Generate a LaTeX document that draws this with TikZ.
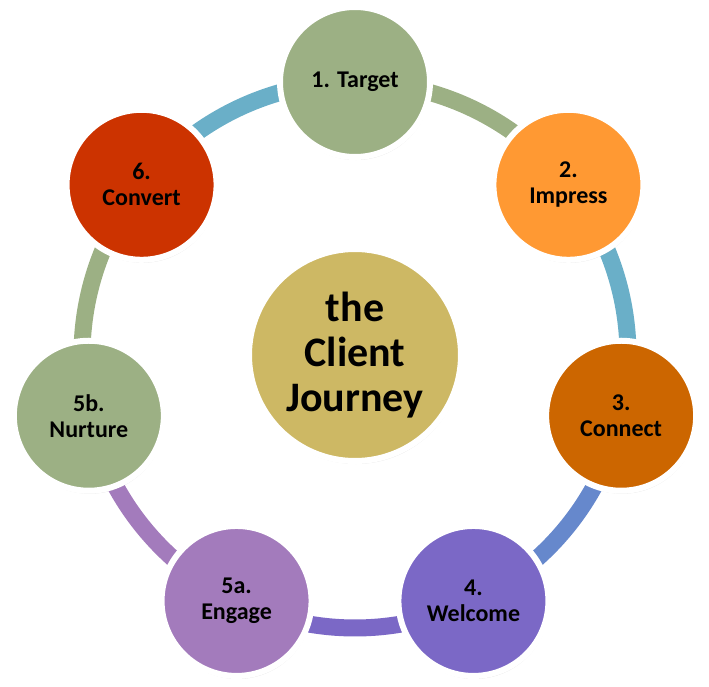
\documentclass[tikz,border=0pt]{standalone}
\usepackage{fontspec}
\setmainfont{Carlito}
\usetikzlibrary{shadows,backgrounds}

\definecolor{sagegreen}{HTML}{9CB084}
\definecolor{amber}{HTML}{FF9933}
\definecolor{rust}{HTML}{CC6600}
\definecolor{brick}{HTML}{CC3300}
\definecolor{lavender}{HTML}{A37BBC}
\definecolor{indigo}{HTML}{7B68C6}
\definecolor{gold}{HTML}{CDB864}
\definecolor{ringteal}{HTML}{6AAFC8}
\definecolor{ringblue}{HTML}{6688CC}

\begin{document}
\begin{tikzpicture}[x=1pt,y=1pt,
  stage/.style={circle,draw=white,line width=6pt,minimum size=150pt,inner sep=0pt,align=center,
    font=\fontsize{24}{26}\selectfont\bfseries,
    drop shadow={opacity=0.22,shadow xshift=1pt,shadow yshift=-3pt}},
  hub/.style={stage,minimum size=212pt,font=\fontsize{42}{45}\selectfont\bfseries},
  ring/.style={line width=17pt}]
\useasboundingbox (-355,-331) rectangle (354,355);

% centre
\node[hub,fill=gold] (journey) at (0,0) {the\\Client\\Journey};

% stages round the cycle
\node[stage,fill=sagegreen] (target) at (90:273) {1. Target};
\node[stage,fill=amber] (impress) at (38.571:273) {2.\\Impress};
\node[stage,fill=rust] (connect) at (-12.857:273) {3.\\Connect};
\node[stage,fill=indigo] (welcome) at (-64.286:273) {4.\\Welcome};
\node[stage,fill=lavender] (engage) at (-115.714:273) {5a.\\Engage};
\node[stage,fill=sagegreen] (nurture) at (-167.143:273) {5b.\\Nurture};
\node[stage,fill=brick] (convert) at (141.429:273) {6.\\Convert};

% ring segments
\begin{scope}[on background layer]
\draw[ring,sagegreen] (target.center) arc[start angle=90,end angle=38.571,radius=273];
\draw[ring,ringteal] (impress.center) arc[start angle=38.571,end angle=-12.857,radius=273];
\draw[ring,ringblue] (connect.center) arc[start angle=-12.857,end angle=-64.286,radius=273];
\draw[ring,indigo] (welcome.center) arc[start angle=-64.286,end angle=-115.714,radius=273];
\draw[ring,lavender] (engage.center) arc[start angle=-115.714,end angle=-167.143,radius=273];
\draw[ring,sagegreen] (nurture.center) arc[start angle=192.857,end angle=141.429,radius=273];
\draw[ring,ringteal] (convert.center) arc[start angle=141.429,end angle=90,radius=273];
\end{scope}
\end{tikzpicture}
\end{document}
